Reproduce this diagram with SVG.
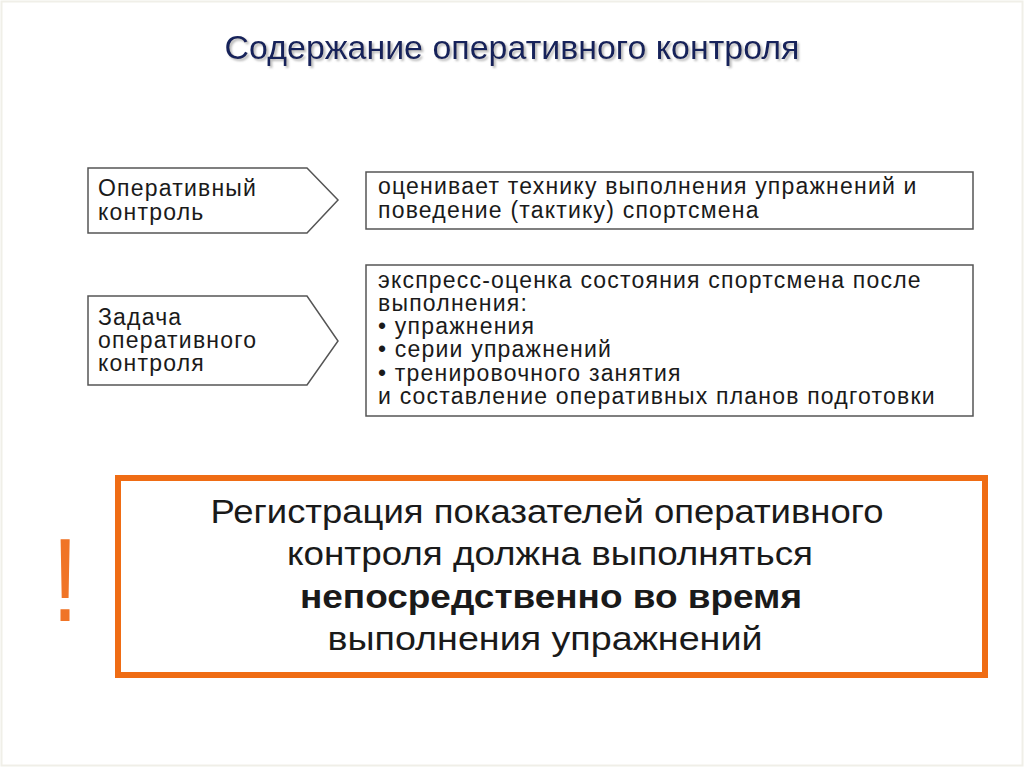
<svg xmlns="http://www.w3.org/2000/svg" width="1024" height="767" viewBox="0 0 1024 767">
<defs>
<style>
.t{font-family:"Liberation Sans",Arial,sans-serif;fill:#1a1a1a;font-size:23px;letter-spacing:1.2px}
.n{font-family:"Liberation Sans",Arial,sans-serif;fill:#1a1a1a;font-size:34px;text-anchor:middle}
.box{fill:#fff;stroke:#555;stroke-width:1.5}
</style>
<filter id="sh" x="-5%" y="-20%" width="110%" height="150%"><feDropShadow dx="2" dy="2" stdDeviation="1.2" flood-color="#888" flood-opacity="0.6"/></filter>
</defs>
<rect x="0" y="0" width="1024" height="767" fill="#fff"/>
<rect x="1.5" y="1.5" width="1021" height="764" fill="none" stroke="#f0efe8" stroke-width="2"/>
<text x="512" y="59" font-family="'Liberation Sans',Arial,sans-serif" font-size="34" fill="#14215a" text-anchor="middle" filter="url(#sh)" textLength="575" lengthAdjust="spacingAndGlyphs">Содержание оперативного контроля</text>
<g id="node-op">
<polygon class="box" points="88,168 307,168 338,200 307,233 88,233"/>
<text class="t" x="98" y="196">Оперативный</text>
<text class="t" x="98" y="220">контроль</text>
</g>
<g id="node-task">
<polygon class="box" points="88,296 307,296 338,341 307,385 88,385"/>
<text class="t" x="98" y="325">Задача</text>
<text class="t" x="98" y="348">оперативного</text>
<text class="t" x="98" y="371">контроля</text>
</g>
<g id="node-desc1">
<rect class="box" x="366" y="172" width="607" height="57"/>
<text class="t" x="378" y="194">оценивает технику выполнения упражнений и</text>
<text class="t" x="378" y="218">поведение (тактику) спортсмена</text>
</g>
<g id="node-desc2">
<rect class="box" x="366" y="265" width="607" height="151"/>
<text class="t" x="378" y="288">экспресс-оценка состояния спортсмена после</text>
<text class="t" x="378" y="311">выполнения:</text>
<text class="t" x="378" y="334">• упражнения</text>
<text class="t" x="378" y="357">• серии упражнений</text>
<text class="t" x="378" y="381">• тренировочного занятия</text>
<text class="t" x="378" y="404">и составление оперативных планов подготовки</text>
</g>
<g id="connectors"></g>
<g id="note">
<rect x="118" y="478" width="867" height="197" fill="#fff" stroke="#ef6c14" stroke-width="6"/>
<text class="n" x="547" y="523" textLength="673" lengthAdjust="spacingAndGlyphs">Регистрация показателей оперативного</text>
<text class="n" x="550" y="565" textLength="526" lengthAdjust="spacingAndGlyphs">контроля должна выполняться</text>
<text class="n" x="551" y="608" font-weight="bold" textLength="502" lengthAdjust="spacingAndGlyphs">непосредственно во время</text>
<text class="n" x="545" y="650" textLength="435" lengthAdjust="spacingAndGlyphs">выполнения упражнений</text>
</g>
<text x="65" y="621" font-family="'Liberation Sans',sans-serif" font-size="118" fill="#f07426" text-anchor="middle" transform="translate(65 0) scale(0.8 1) translate(-65 0)">!</text>
</svg>
